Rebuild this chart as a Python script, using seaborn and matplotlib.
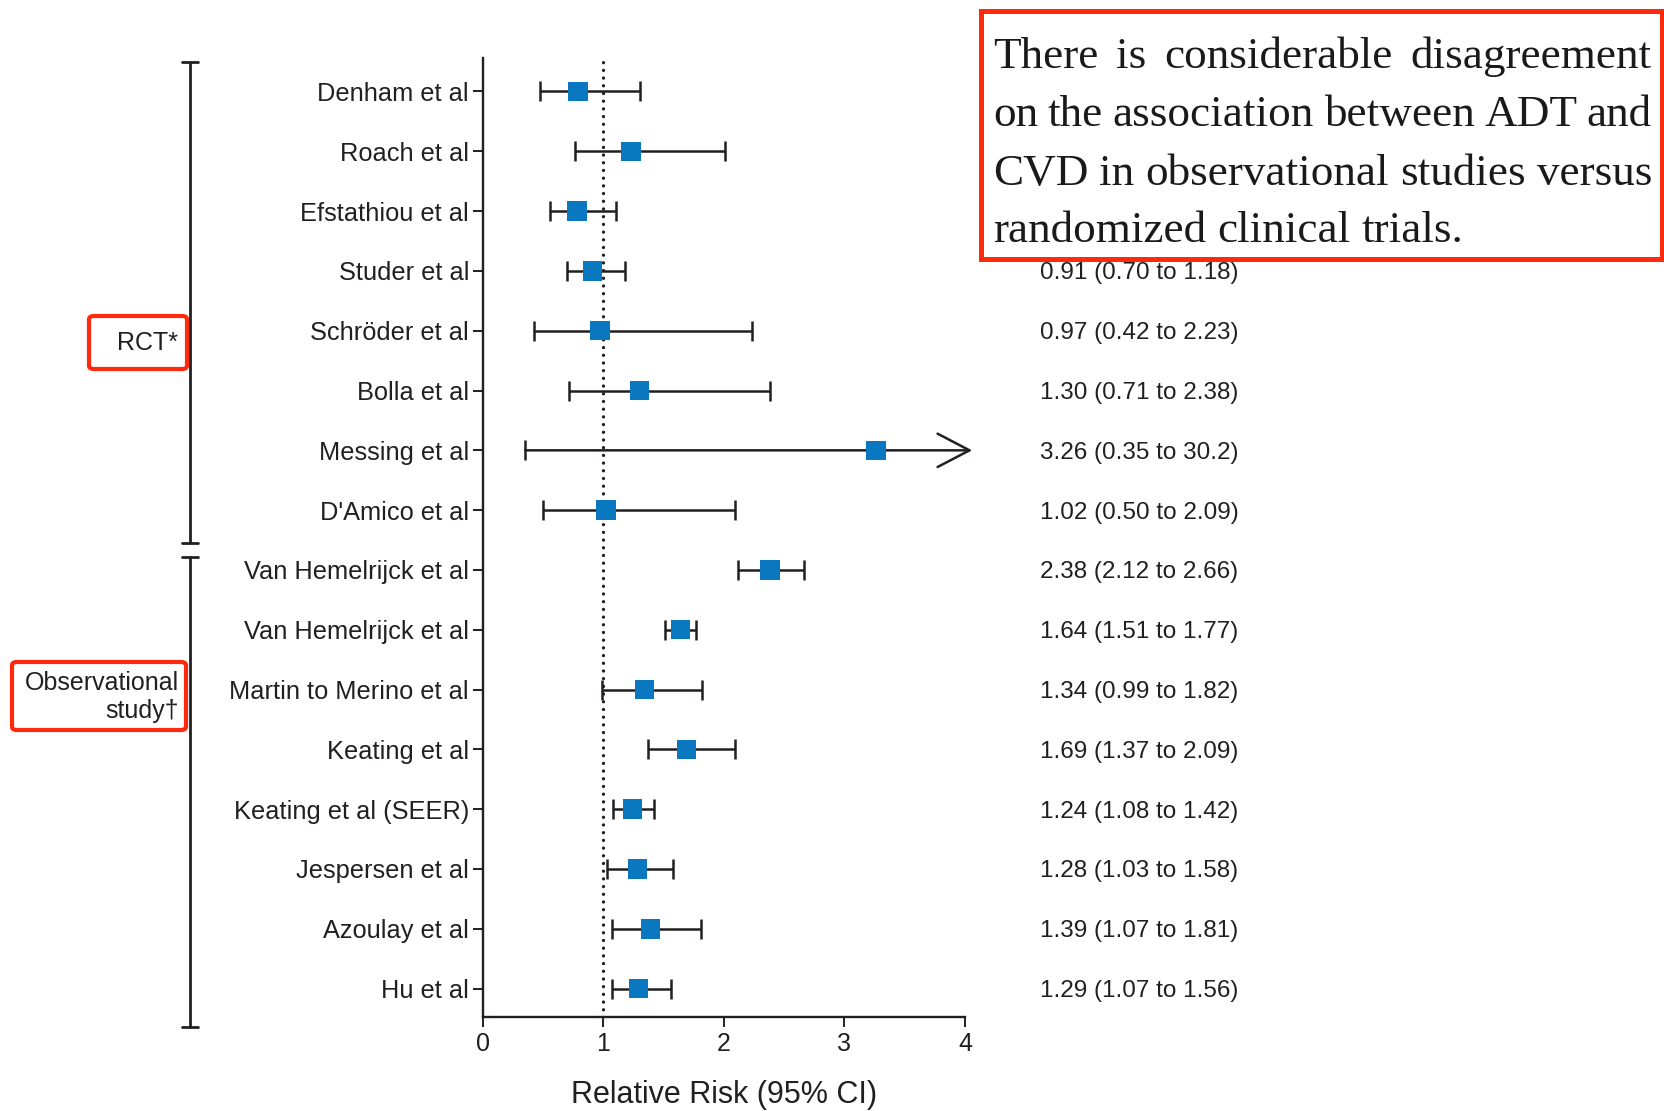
import numpy as np
import pandas as pd
import matplotlib
matplotlib.use("Agg")
import matplotlib.pyplot as plt
import seaborn as sns
from matplotlib.patches import FancyBboxPatch, Rectangle
from matplotlib.lines import Line2D

# ---- data -------------------------------------------------------------
studies = ["Denham et al", "Roach et al", "Efstathiou et al", "Studer et al",
           "Schröder et al", "Bolla et al", "Messing et al", "D'Amico et al",
           "Van Hemelrijck et al", "Van Hemelrijck et al", "Martin to Merino et al",
           "Keating et al", "Keating et al (SEER)", "Jespersen et al",
           "Azoulay et al", "Hu et al"]
rel_risk = [0.79, 1.23, 0.78, 0.91, 0.97, 1.30, 3.26, 1.02,
            2.38, 1.64, 1.34, 1.69, 1.24, 1.28, 1.39, 1.29]
ci_low = [0.47, 0.76, 0.56, 0.70, 0.42, 0.71, 0.35, 0.50,
          2.12, 1.51, 0.99, 1.37, 1.08, 1.03, 1.07, 1.07]
ci_high = [1.30, 2.01, 1.10, 1.18, 2.23, 2.38, 30.2, 2.09,
           2.66, 1.77, 1.82, 2.09, 1.42, 1.58, 1.81, 1.56]
design = ["RCT"] * 8 + ["Observational"] * 8
x_ticks = [0, 1, 2, 3, 4]

note_lines = ["There is considerable disagreement",
              "on the association between ADT and",
              "CVD in observational studies versus",
              "randomized clinical trials."]

df = pd.DataFrame({"study": studies, "row": np.arange(len(studies)),
                   "rr": rel_risk, "lo": ci_low, "hi": ci_high, "design": design})

# ---- style ------------------------------------------------------------
sns.set_theme(style="white")
plt.rcParams["font.family"] = ["Liberation Sans", "DejaVu Sans"]
INK = "#231F20"
BLUE = "#0A77C1"
RED = "#FF2A0D"
W, H = 1665, 1111

fig = plt.figure(figsize=(W / 100, H / 100), dpi=100)
ax = fig.add_axes([483 / W, 1 - 1017 / H, (965 - 483) / W, (1017 - 58) / H])

XMAX = 4
ax.set_xlim(0, XMAX)
ax.set_ylim(15.475, -0.56)

# reference line at RR = 1
ax.axvline(1, color=INK, lw=2.4, ls=(0, (0.01, 2.3)), dash_capstyle="round", zorder=1)

# confidence intervals
inside = df[df["hi"] <= XMAX]
ax.errorbar(inside["rr"], inside["row"],
            xerr=[inside["rr"] - inside["lo"], inside["hi"] - inside["rr"]],
            fmt="none", ecolor=INK, elinewidth=1.8, capsize=7.5, capthick=1.8, zorder=2)

# intervals running past the axis end with an open arrow
beyond = df[df["hi"] > XMAX]
for _, r in beyond.iterrows():
    ax.plot([r["lo"]], [r["row"]], marker="|", markersize=15, mew=1.8, color=INK,
            zorder=2, clip_on=False)
    ax.annotate("", xy=(XMAX + 0.06, r["row"]), xytext=(r["lo"], r["row"]),
                xycoords="data", textcoords="data", annotation_clip=False,
                arrowprops=dict(arrowstyle="->,head_length=1.15,head_width=0.6",
                                mutation_scale=20, color=INK, lw=1.8,
                                shrinkA=0, shrinkB=0), zorder=2)

# point estimates
sns.scatterplot(data=df, x="rr", y="row", marker="s", s=14 ** 2, color=BLUE,
                edgecolor="none", linewidth=0, zorder=4, ax=ax, legend=False)

# axes furniture
for side in ("top", "right"):
    ax.spines[side].set_visible(False)
for side in ("left", "bottom"):
    ax.spines[side].set_color(INK)
    ax.spines[side].set_linewidth(1.7)
ax.set_yticks(df["row"])
ax.set_yticklabels(studies)
ax.set_xticks(x_ticks)
ax.set_xticklabels([str(t) for t in x_ticks])
ax.tick_params(axis="y", direction="out", length=7, width=1.4, color=INK,
               labelsize=18.3, labelcolor=INK, pad=3, left=True)
ax.tick_params(axis="x", direction="out", length=7, width=1.4, color=INK,
               labelsize=18, labelcolor=INK, pad=4, bottom=True)
ax.set_xlabel("Relative Risk (95% CI)", fontsize=22, color=INK, labelpad=17)
ax.set_ylabel("")

# estimate column (the first rows sit beneath the callout box)
for _, r in df.iloc[3:].iterrows():
    hi_txt = f"{r['hi']:.1f}" if r["hi"] >= 10 else f"{r['hi']:.2f}"
    ax.text((1040 - 483) / (965 - 483), r["row"] + 0.04,
            f"{r['rr']:.2f} ({r['lo']:.2f} to {hi_txt})",
            transform=ax.get_yaxis_transform(), ha="left", va="center",
            fontsize=17.5, color=INK, zorder=1)

# group brackets
def to_fig(xp, yp):
    return xp / W, 1 - yp / H

for y0, y1 in [(62, 543), (557, 1027)]:
    xs, ys = zip(to_fig(190, y0), to_fig(190, y1))
    fig.add_artist(Line2D(xs, ys, color=INK, lw=2.0))
    for yy in (y0, y1):
        xs, ys = zip(to_fig(182, yy), to_fig(198, yy))
        fig.add_artist(Line2D(xs, ys, color=INK, lw=2.0))

# group labels in red frames
def red_frame(x0, y0, x1, y1, lw=3.0):
    fx0, fy1 = to_fig(x0, y0)
    fx1, fy0 = to_fig(x1, y1)
    fig.add_artist(FancyBboxPatch((fx0, fy0), fx1 - fx0, fy1 - fy0,
                                  boxstyle="round,pad=0,rounding_size=0.003",
                                  transform=fig.transFigure, facecolor="white",
                                  edgecolor=RED, lw=lw, zorder=5))

red_frame(89, 316, 187, 369)
fig.text(*to_fig(178, 343), "RCT*", ha="right", va="center", fontsize=18,
         color=INK, zorder=6)
red_frame(12, 662, 186, 730)
fig.text(*to_fig(179, 697), "Observational\nstudy†", ha="right", va="center",
         fontsize=18, color=INK, linespacing=1.2, zorder=6)

# callout box with justified note
fx0, fy1 = to_fig(981, 11)
fx1, fy0 = to_fig(1662, 259)
fig.add_artist(Rectangle((fx0, fy0), fx1 - fx0, fy1 - fy0, transform=fig.transFigure,
                         facecolor="white", edgecolor=RED, lw=3.6, zorder=7))

serif_kw = dict(fontsize=32.5, color="#1a1a1a", zorder=8,
                family=["Liberation Serif", "DejaVu Serif"])
left_px, right_px = 993, 1652
baselines = [68, 126, 185, 242]
renderer = fig.canvas.get_renderer()
for i, (line, base) in enumerate(zip(note_lines, baselines)):
    words = line.split()
    texts = [fig.text(0, 1 - base / H, w, ha="left", va="baseline", **serif_kw)
             for w in words]
    widths = [t.get_window_extent(renderer).width for t in texts]
    if i < len(note_lines) - 1:
        gap = (right_px - left_px - sum(widths)) / (len(words) - 1)
    else:
        gap = 0.25 * serif_kw["fontsize"] * 100 / 72
    x = left_px
    for t, w in zip(texts, widths):
        t.set_x(x / W)
        x += w + gap

fig.savefig("out.png", dpi=100, facecolor="white")
